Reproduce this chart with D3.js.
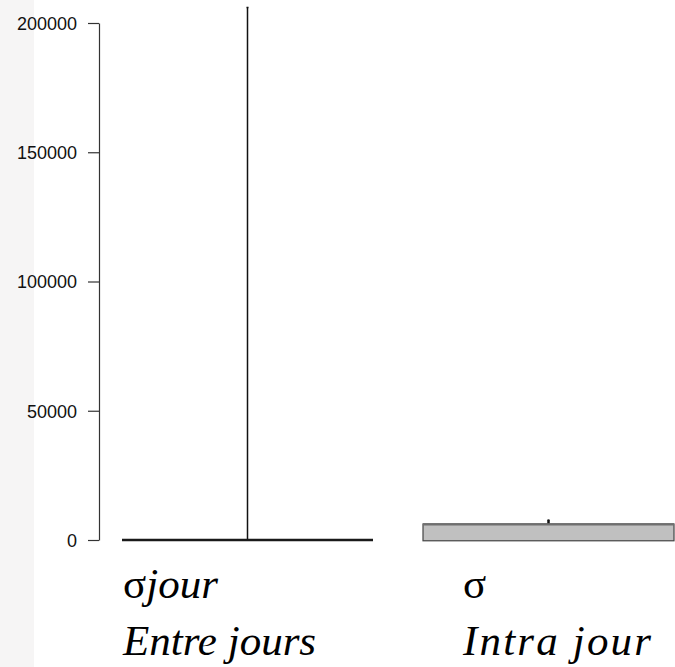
<!DOCTYPE html>
<html>
<head>
<meta charset="utf-8">
<script src="https://cdn.jsdelivr.net/npm/d3@7"></script>
<style>
  html, body { margin: 0; padding: 0; background: #ffffff; }
  svg { display: block; }
</style>
</head>
<body>
<svg id="chart" width="675" height="667"></svg>
<script>
// Variance components: between-day and within-day spread
const categories = ["entre", "intra"];
const symbolLabels = [["σ", "jour"], ["σ", ""]];
const groupLabels = ["Entre jours", "Intra jour"];
const lowerWhisker = [0, -300];
const q1Values = [0, -300];
const medianValues = [0, 6100];
const q3Values = [0, 6200];
const upperWhisker = [206000, 7700];
const yTicks = [0, 50000, 100000, 150000, 200000];

const svg = d3.select("#chart");

// faint backdrop strip on the left edge
svg.append("rect").attr("x", 0).attr("y", 0).attr("width", 34).attr("height", 667)
  .attr("fill", "#f6f5f5");
svg.append("rect").attr("x", 34).attr("y", 0).attr("width", 641).attr("height", 667)
  .attr("fill", "#ffffff");

const y = d3.scaleLinear().domain([0, 200000]).range([540, 23]);
const x = d3.scalePoint().domain(categories).range([247.5, 548.5]);
const boxW = 251;

// y axis, spanning only the tick range
const axis = svg.append("g")
  .attr("transform", "translate(99,0)")
  .call(d3.axisLeft(y).tickValues(yTicks).tickSize(11).tickSizeOuter(0)
    .tickFormat(d3.format("d")));
axis.select(".domain").attr("stroke", "#333").attr("stroke-width", 1.2);
axis.selectAll(".tick line").attr("stroke", "#333").attr("stroke-width", 1.2);
axis.selectAll(".tick text")
  .attr("x", -22)
  .attr("dy", "0.36em")
  .attr("fill", "#111")
  .style("font-family", "'Liberation Sans', Arial, sans-serif")
  .style("font-size", "18px");

const boxes = categories.map((c, i) => ({
  c, lo: lowerWhisker[i], q1: q1Values[i], med: medianValues[i],
  q3: q3Values[i], hi: upperWhisker[i]
}));

const g = svg.append("g");

boxes.forEach((b, i) => {
  const cx = x(b.c);
  // whisker
  g.append("line")
    .attr("x1", cx).attr("x2", cx)
    .attr("y1", y(b.q3)).attr("y2", y(b.hi))
    .attr("stroke", "#111").attr("stroke-width", i === 0 ? 1.5 : 2.5);
  g.append("line")
    .attr("x1", cx - 1).attr("x2", cx + 1)
    .attr("y1", y(b.hi)).attr("y2", y(b.hi))
    .attr("stroke", "#111").attr("stroke-width", 1.5);
  // box
  const top = y(b.q3), bottom = y(b.q1);
  if (bottom - top > 1) {
    g.append("rect")
      .attr("x", cx - boxW / 2).attr("y", top)
      .attr("width", boxW).attr("height", bottom - top)
      .attr("fill", "#c0c0c0").attr("stroke", "#444").attr("stroke-width", 1.2);
    g.append("line")
      .attr("x1", cx - boxW / 2).attr("x2", cx + boxW / 2)
      .attr("y1", top + 0.5).attr("y2", top + 0.5)
      .attr("stroke", "#6f6f6f").attr("stroke-width", 2.2);
  } else {
    g.append("line")
      .attr("x1", cx - boxW / 2).attr("x2", cx + boxW / 2)
      .attr("y1", y(b.med)).attr("y2", y(b.med))
      .attr("stroke", "#1a1a1a").attr("stroke-width", 2.4);
  }
});

// category labels, two lines each
const labelOffsets = [-124.5, -85.5];
const labelWidths = [null, 188];
categories.forEach((c, i) => {
  const lx = x(c) + labelOffsets[i];
  const t1 = svg.append("text")
    .attr("x", lx).attr("y", 598)
    .attr("fill", "#000")
    .style("font-family", "'Liberation Serif', 'Times New Roman', serif")
    .style("font-size", "43px");
  t1.append("tspan").text(symbolLabels[i][0]);
  if (symbolLabels[i][1]) t1.append("tspan").style("font-style", "italic").text(symbolLabels[i][1]);
  const t2 = svg.append("text")
    .attr("x", lx).attr("y", 655)
    .attr("fill", "#000")
    .style("font-family", "'Liberation Serif', 'Times New Roman', serif")
    .style("font-size", "43px")
    .style("font-style", "italic")
    .text(groupLabels[i]);
  if (labelWidths[i]) t2.attr("textLength", labelWidths[i]).attr("lengthAdjust", "spacing");
});
</script>
</body>
</html>
